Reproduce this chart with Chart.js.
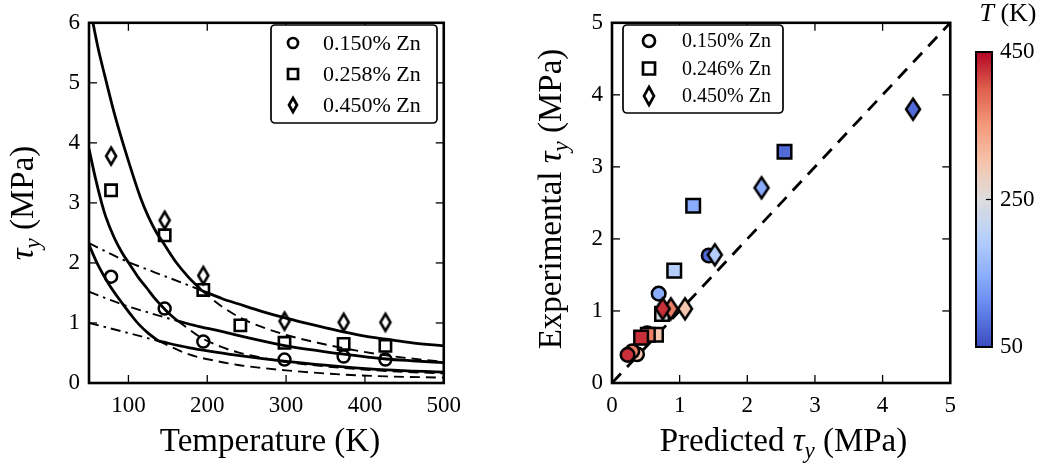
<!DOCTYPE html>
<html>
<head>
<meta charset="utf-8">
<script src="https://cdn.jsdelivr.net/npm/chart.js@4.4.1/dist/chart.umd.min.js"></script>
<style>
html, body { margin: 0; padding: 0; background: #fff; }
#wrap { position: relative; width: 1045px; height: 463px; overflow: hidden; }
#wrap canvas { position: absolute; top: 0; }
</style>
</head>
<body>
<div id="wrap">
  <canvas id="left" width="470" height="463" style="left:0;width:470px;height:463px"></canvas>
  <canvas id="right" width="495" height="463" style="left:470px;width:495px;height:463px"></canvas>
  <canvas id="cbar" width="80" height="463" style="left:965px;width:80px;height:463px"></canvas>
</div>
<script>
// ---- left panel: measured yield stress vs temperature ----
var zn150T = [78, 146, 195, 298, 373, 426];
var zn150Tau = [1.77, 1.24, 0.69, 0.39, 0.44, 0.39];
var zn258T = [78, 146, 195, 242, 298, 373, 426];
var zn258Tau = [3.21, 2.46, 1.55, 0.96, 0.67, 0.65, 0.62];
var zn450T = [78, 146, 195, 298, 373, 426];
var zn450Tau = [3.78, 2.71, 1.79, 1.03, 1.01, 1.01];

// model curves (solid = steep part + flat part)
var aSteepT = [55, 62, 70, 83, 100, 115, 125, 135, 146, 160, 175, 193];
var aSteepTau = [6.0, 5.55, 5.12, 4.45, 3.7, 3.1, 2.78, 2.52, 2.3, 2.02, 1.78, 1.54];
var aFlatT = [193, 220, 239, 270, 300, 340, 373, 400, 427, 460, 500];
var aFlatTau = [1.54, 1.40, 1.32, 1.19, 1.08, 0.95, 0.85, 0.78, 0.73, 0.67, 0.62];
var aDashDotT = [50, 92, 134, 172, 193];
var aDashDotTau = [2.33, 2.06, 1.84, 1.65, 1.54];
var aDashT = [193, 218, 243, 270, 300, 340, 373, 427, 500];
var aDashTau = [1.54, 1.28, 1.08, 0.93, 0.80, 0.67, 0.58, 0.46, 0.35];

var bSteepT = [50, 58, 66, 71, 82, 92, 103, 113, 124, 134, 146, 155, 163];
var bSteepTau = [3.9, 3.42, 3.0, 2.78, 2.42, 2.17, 1.95, 1.75, 1.57, 1.40, 1.23, 1.115, 1.03];
var bFlatT = [163, 190, 218, 250, 300, 340, 373, 427, 460, 500];
var bFlatTau = [1.03, 0.94, 0.86, 0.76, 0.62, 0.54, 0.48, 0.40, 0.37, 0.34];
var bDashDotT = [50, 92, 134, 163];
var bDashDotTau = [1.52, 1.31, 1.14, 1.03];
var bDashT = [163, 193, 218, 239, 270, 300, 340, 373, 427, 500];
var bDashTau = [1.03, 0.75, 0.60, 0.51, 0.42, 0.35, 0.29, 0.25, 0.20, 0.16];

var cSteepT = [50, 62, 75, 92, 103, 113, 125, 138];
var cSteepTau = [2.3, 1.95, 1.65, 1.33, 1.14, 0.98, 0.83, 0.70];
var cFlatT = [138, 176, 239, 300, 373, 427, 500];
var cFlatTau = [0.70, 0.59, 0.46, 0.36, 0.27, 0.22, 0.18];
var cDashDotT = [50, 92, 138];
var cDashDotTau = [1.0, 0.86, 0.70];
var cDashT = [138, 176, 210, 239, 270, 300, 373, 427, 500];
var cDashTau = [0.70, 0.48, 0.37, 0.30, 0.25, 0.21, 0.14, 0.11, 0.09];

var leftXTicks = [100, 200, 300, 400, 500];
var leftYTicks = [0, 1, 2, 3, 4, 5, 6];
var leftLabels = ['0.150% Zn', '0.258% Zn', '0.450% Zn'];

// ---- right panel: predicted vs experimental, coloured by T ----
var circPred = [1.43, 0.69, 0.52, 0.37, 0.30, 0.23];
var circExp = [1.77, 1.24, 0.69, 0.40, 0.44, 0.39];
var circT = [78, 146, 195, 298, 373, 426];
var sqPred = [2.55, 1.20, 0.92, 0.74, 0.65, 0.53, 0.43];
var sqExp = [3.21, 2.46, 1.56, 0.96, 0.67, 0.67, 0.63];
var sqT = [78, 146, 195, 242, 298, 373, 426];
var diaPred = [4.45, 2.21, 1.52, 1.08, 0.87, 0.75];
var diaExp = [3.80, 2.71, 1.78, 1.03, 1.03, 1.03];
var diaT = [78, 146, 195, 298, 373, 426];
var parityLine = [0, 5];
var rightTicks = [0, 1, 2, 3, 4, 5];
var rightLabels = ['0.150% Zn', '0.246% Zn', '0.450% Zn'];

var cbarRange = [50, 450];
var cbarTicks = [50, 250, 450];

// coolwarm colour map
var coolStops = [
  [0.0, [59, 76, 192]], [0.125, [98, 130, 234]], [0.25, [141, 176, 254]],
  [0.375, [184, 208, 249]], [0.5, [221, 221, 221]], [0.625, [245, 196, 173]],
  [0.75, [244, 154, 123]], [0.875, [222, 96, 77]], [1.0, [180, 4, 38]]
];
function rgb(c) { return 'rgb(' + c.map(Math.round).join(',') + ')'; }
function tColor(T) {
  var t = Math.max(0, Math.min(1, (T - cbarRange[0]) / (cbarRange[1] - cbarRange[0])));
  for (var i = 1; i < coolStops.length; i++) {
    if (t <= coolStops[i][0]) {
      var a = coolStops[i - 1], b = coolStops[i];
      var f = (t - a[0]) / (b[0] - a[0]);
      return rgb(a[1].map(function (v, k) { return v + (b[1][k] - v) * f; }));
    }
  }
  return rgb(coolStops[coolStops.length - 1][1]);
}

var FONT = "'Liberation Serif', 'Times New Roman', serif";

function pts(xs, ys) { return xs.map(function (x, i) { return { x: x, y: ys[i] }; }); }

var diamondCache = {};
function diamondImg(fill, w, h, lw) {
  var key = [fill, w, h, lw].join('|');
  if (diamondCache[key]) return diamondCache[key];
  var c = document.createElement('canvas');
  var m = 2 * lw + 4;
  c.width = Math.ceil(w + m); c.height = Math.ceil(h + m);
  if (c.width % 2) c.width++;
  if (c.height % 2) c.height++;
  var g = c.getContext('2d');
  var cx = c.width / 2, cy = c.height / 2;
  g.beginPath();
  g.moveTo(cx, cy - h / 2); g.lineTo(cx + w / 2, cy);
  g.lineTo(cx, cy + h / 2); g.lineTo(cx - w / 2, cy); g.closePath();
  g.fillStyle = fill; g.fill();
  g.lineWidth = lw; g.strokeStyle = '#000'; g.stroke();
  diamondCache[key] = c;
  return c;
}

function drawMarker(ctx, kind, x, y, s, fill, lw) {
  ctx.save();
  ctx.fillStyle = fill; ctx.strokeStyle = '#000'; ctx.lineWidth = lw;
  ctx.beginPath();
  if (kind === 'circle') ctx.arc(x, y, s.r, 0, Math.PI * 2);
  else if (kind === 'square') ctx.rect(x - s.sq / 2, y - s.sq / 2, s.sq, s.sq);
  else {
    ctx.moveTo(x, y - s.dh / 2); ctx.lineTo(x + s.dw / 2, y);
    ctx.lineTo(x, y + s.dh / 2); ctx.lineTo(x - s.dw / 2, y); ctx.closePath();
  }
  ctx.fill(); ctx.stroke();
  ctx.restore();
}

function roundBox(ctx, x, y, w, h, r) {
  ctx.beginPath();
  ctx.moveTo(x + r, y);
  ctx.arcTo(x + w, y, x + w, y + h, r);
  ctx.arcTo(x + w, y + h, x, y + h, r);
  ctx.arcTo(x, y + h, x, y, r);
  ctx.arcTo(x, y, x + w, y, r);
  ctx.closePath();
}

function richText(ctx, parts, cx, cy, rot) {
  ctx.save();
  ctx.translate(cx, cy); ctx.rotate(rot || 0);
  ctx.textAlign = 'left'; ctx.textBaseline = 'alphabetic'; ctx.fillStyle = '#000';
  var total = 0;
  parts.forEach(function (p) { ctx.font = p.font; p.w = ctx.measureText(p.text).width; total += p.w; });
  var x = -total / 2;
  parts.forEach(function (p) { ctx.font = p.font; ctx.fillText(p.text, x, p.dy || 0); x += p.w; });
  ctx.restore();
}

// frame, inward ticks, legend and axis titles
var decoPlugin = {
  id: 'deco',
  afterDraw: function (chart, args, o) {
    var ctx = chart.ctx, a = chart.chartArea;
    ctx.save();
    ctx.strokeStyle = '#000';
    ctx.lineWidth = o.tickWidth;
    function seg(x1, y1, x2, y2) { ctx.beginPath(); ctx.moveTo(x1, y1); ctx.lineTo(x2, y2); ctx.stroke(); }
    var xs = chart.scales.x, ys = chart.scales.y;
    if (o.xTicks) xs.ticks.forEach(function (t) {
      var p = xs.getPixelForValue(t.value);
      seg(p, a.bottom, p, a.bottom - o.tickLen);
      seg(p, a.top, p, a.top + o.tickLen);
    });
    ys.ticks.forEach(function (t) {
      var p = ys.getPixelForValue(t.value);
      if (o.leftTicks) seg(a.left, p, a.left + o.tickLen, p);
      seg(a.right, p, a.right - o.tickLen, p);
    });
    ctx.lineWidth = o.frameWidth;
    ctx.strokeRect(a.left, a.top, a.right - a.left, a.bottom - a.top);

    if (o.legend) {
      var L = o.legend;
      ctx.fillStyle = '#fff';
      roundBox(ctx, L.x, L.y, L.w, L.h, 4);
      ctx.fill();
      ctx.lineWidth = 1.7; ctx.stroke();
      ctx.font = L.font; ctx.fillStyle = '#000';
      ctx.textAlign = 'left'; ctx.textBaseline = 'middle';
      L.items.forEach(function (it, i) {
        var yy = L.rows[i];
        drawMarker(ctx, it.kind, L.mx, yy, L.size, '#fff', 2.7);
        ctx.fillStyle = '#000';
        ctx.fillText(it.label, L.tx, yy + 1);
      });
    }
    (o.titles || []).forEach(function (t) { richText(ctx, t.parts, t.x, t.y, t.rot); });
    ctx.restore();
  }
};

function fixedTicks(list) {
  return function (s) { s.ticks = list.map(function (v) { return { value: v }; }); };
}
function tickFont(size) { return { family: FONT, size: size }; }

var TITLE = '33px ' + FONT;
var TITLE_I = 'italic 33px ' + FONT;
var SUB_I = 'italic 23px ' + FONT;

function curve(xs, ys, style) {
  var d = {
    data: pts(xs, ys), showLine: true, pointRadius: 0, borderColor: '#000',
    backgroundColor: '#000', fill: false, cubicInterpolationMode: 'monotone', order: 10
  };
  if (style === 'solid') { d.borderWidth = 2.8; }
  if (style === 'dash') { d.borderWidth = 1.9; d.borderDash = [10, 6]; }
  if (style === 'dashdot') { d.borderWidth = 1.9; d.borderDash = [10, 5, 2.5, 5]; }
  return d;
}

Chart.defaults.animation = false;

new Chart(document.getElementById('left'), {
  type: 'scatter',
  data: {
    datasets: [
      { data: pts(zn150T, zn150Tau), pointStyle: 'circle', pointRadius: 6, pointBorderWidth: 2.5,
        pointBorderColor: '#000', pointBackgroundColor: 'rgba(255,255,255,0)', order: 0 },
      { data: pts(zn258T, zn258Tau), pointStyle: 'rect', pointRadius: 8, pointBorderWidth: 2.6,
        pointBorderColor: '#000', pointBackgroundColor: 'rgba(255,255,255,0)', order: 0 },
      { data: pts(zn450T, zn450Tau), pointStyle: diamondImg('rgba(255,255,255,0)', 10, 17, 2.6),
        pointRadius: 8, order: 0 },
      curve(aSteepT, aSteepTau, 'solid'), curve(aFlatT, aFlatTau, 'solid'),
      curve(aDashDotT, aDashDotTau, 'dashdot'), curve(aDashT, aDashTau, 'dash'),
      curve(bSteepT, bSteepTau, 'solid'), curve(bFlatT, bFlatTau, 'solid'),
      curve(bDashDotT, bDashDotTau, 'dashdot'), curve(bDashT, bDashTau, 'dash'),
      curve(cSteepT, cSteepTau, 'solid'), curve(cFlatT, cFlatTau, 'solid'),
      curve(cDashDotT, cDashDotTau, 'dashdot'), curve(cDashT, cDashTau, 'dash')
    ]
  },
  options: {
    responsive: false,
    layout: { padding: { top: 15, right: 23, left: 0, bottom: 0 } },
    plugins: {
      legend: { display: false }, tooltip: { enabled: false },
      deco: {
        tickLen: 8, tickWidth: 1.3, frameWidth: 2.6, xTicks: true, leftTicks: true,
        legend: {
          x: 271, y: 25, w: 166, h: 98, rows: [43, 74, 105], mx: 293, tx: 323,
          font: '22px ' + FONT, size: { r: 5, sq: 10, dw: 8, dh: 14 },
          items: [{ kind: 'circle', label: leftLabels[0] }, { kind: 'square', label: leftLabels[1] },
                  { kind: 'diamond', label: leftLabels[2] }]
        },
        titles: [
          { parts: [{ text: 'Temperature (K)', font: TITLE }], x: 270, y: 451, rot: 0 },
          { parts: [{ text: '\u03C4', font: TITLE_I }, { text: 'y', font: SUB_I, dy: 7 },
                    { text: ' (MPa)', font: TITLE }], x: 33, y: 203, rot: -Math.PI / 2 }
        ]
      }
    },
    scales: {
      x: {
        type: 'linear', min: 50, max: 500,
        grid: { display: false, drawTicks: false, tickLength: 0 }, border: { display: false },
        ticks: { font: tickFont(23), color: '#000', padding: 9, maxRotation: 0 },
        afterBuildTicks: fixedTicks(leftXTicks),
        afterFit: function (s) { s.height = 80; }
      },
      y: {
        type: 'linear', min: 0, max: 6,
        grid: { display: false, drawTicks: false, tickLength: 0 }, border: { display: false },
        ticks: { font: tickFont(23), color: '#000', padding: 9 },
        afterBuildTicks: fixedTicks(leftYTicks),
        afterFit: function (s) { s.width = 89; }
      }
    }
  },
  plugins: [decoPlugin]
});

new Chart(document.getElementById('right'), {
  type: 'scatter',
  data: {
    datasets: [
      { data: pts(diaPred, diaExp), order: 0, pointRadius: 9,
        pointStyle: function (c) { return diamondImg(tColor(diaT[c.dataIndex]), 14, 21, 2.5); } },
      { data: pts(sqPred, sqExp), order: 1, pointStyle: 'rect', pointRadius: 9.6, pointBorderWidth: 2.5,
        pointBorderColor: '#000',
        pointBackgroundColor: function (c) { return tColor(sqT[c.dataIndex]); } },
      { data: pts(circPred, circExp), order: 2, pointStyle: 'circle', pointRadius: 6.8, pointBorderWidth: 2.5,
        pointBorderColor: '#000',
        pointBackgroundColor: function (c) { return tColor(circT[c.dataIndex]); } },
      { data: pts(parityLine, parityLine), order: 3, showLine: true, pointRadius: 0,
        borderColor: '#000', borderWidth: 2.8, borderDash: [13, 9] }
    ]
  },
  options: {
    responsive: false,
    layout: { padding: { top: 15, right: 10, left: 0, bottom: 0 } },
    plugins: {
      legend: { display: false }, tooltip: { enabled: false },
      deco: {
        tickLen: 8, tickWidth: 1.3, frameWidth: 2.6, xTicks: true, leftTicks: true,
        legend: {
          x: 153, y: 25, w: 160, h: 88, rows: [41, 68.5, 96], mx: 179, tx: 212,
          font: '20px ' + FONT, size: { r: 6, sq: 12, dw: 10, dh: 18 },
          items: [{ kind: 'circle', label: rightLabels[0] }, { kind: 'square', label: rightLabels[1] },
                  { kind: 'diamond', label: rightLabels[2] }]
        },
        titles: [
          { parts: [{ text: 'Predicted ', font: TITLE }, { text: '\u03C4', font: TITLE_I },
                    { text: 'y', font: SUB_I, dy: 7 }, { text: ' (MPa)', font: TITLE }],
            x: 313.5, y: 451, rot: 0 },
          { parts: [{ text: 'Experimental ', font: TITLE }, { text: '\u03C4', font: TITLE_I },
                    { text: 'y', font: SUB_I, dy: 7 }, { text: ' (MPa)', font: TITLE }],
            x: 91, y: 199, rot: -Math.PI / 2 }
        ]
      }
    },
    scales: {
      x: {
        type: 'linear', min: 0, max: 5,
        grid: { display: false, drawTicks: false, tickLength: 0 }, border: { display: false },
        ticks: { font: tickFont(23), color: '#000', padding: 9, maxRotation: 0 },
        afterBuildTicks: fixedTicks(rightTicks),
        afterFit: function (s) { s.height = 80; }
      },
      y: {
        type: 'linear', min: 0, max: 5,
        grid: { display: false, drawTicks: false, tickLength: 0 }, border: { display: false },
        ticks: { font: tickFont(23), color: '#000', padding: 9 },
        afterBuildTicks: fixedTicks(rightTicks),
        afterFit: function (s) { s.width = 142; }
      }
    }
  },
  plugins: [decoPlugin]
});

new Chart(document.getElementById('cbar'), {
  type: 'bar',
  data: {
    labels: ['T'],
    datasets: [{
      data: [cbarRange],
      barPercentage: 1, categoryPercentage: 1, borderWidth: 0,
      backgroundColor: function (c) {
        var a = c.chart.chartArea;
        if (!a) return '#ddd';
        var g = c.chart.ctx.createLinearGradient(0, a.bottom, 0, a.top);
        coolStops.forEach(function (s) { g.addColorStop(s[0], rgb(s[1])); });
        return g;
      }
    }]
  },
  options: {
    responsive: false,
    layout: { padding: { top: 52, bottom: 116, left: 11, right: 0 } },
    plugins: {
      legend: { display: false }, tooltip: { enabled: false },
      deco: {
        tickLen: 6, tickWidth: 1.2, frameWidth: 2, xTicks: false, leftTicks: false,
        titles: [{ parts: [{ text: 'T', font: 'italic 26px ' + FONT }, { text: ' (K)', font: '26px ' + FONT }],
                   x: 43, y: 21, rot: 0 }]
      }
    },
    scales: {
      x: { display: false },
      y: {
        position: 'right', min: cbarRange[0], max: cbarRange[1],
        grid: { display: false, drawTicks: false, tickLength: 0 }, border: { display: false },
        ticks: { font: tickFont(23), color: '#000', padding: 8 },
        afterBuildTicks: fixedTicks(cbarTicks),
        afterFit: function (s) { s.width = 53; }
      }
    }
  },
  plugins: [decoPlugin]
});
</script>
</body>
</html>
